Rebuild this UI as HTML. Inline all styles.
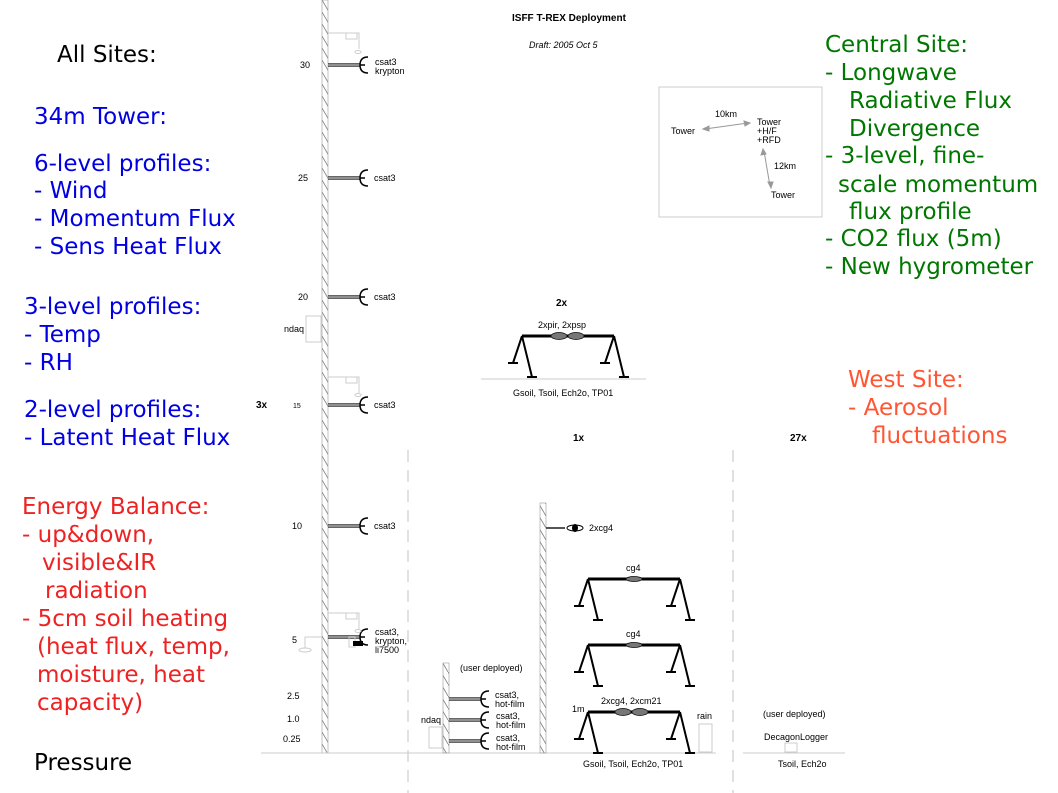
<!DOCTYPE html>
<html><head><meta charset="utf-8"><style>
html,body{margin:0;padding:0;background:#fff;}
svg{display:block}
.b{font-family:"DejaVu Sans","Liberation Sans",sans-serif;font-size:23px}
.s{font-family:"Liberation Sans",Arial,sans-serif;font-size:9px;fill:#000}
.sb{font-family:"Liberation Sans",Arial,sans-serif;font-size:10px;font-weight:bold;fill:#000}
</style></head><body>
<svg width="1058" height="793" viewBox="0 0 1058 793" xmlns="http://www.w3.org/2000/svg">
<defs>
<pattern id="h" width="7" height="12" patternUnits="userSpaceOnUse">
<line x1="0" y1="0" x2="7" y2="12" stroke="#777" stroke-width="0.8"/>
</pattern>
<g id="son"><line x1="0" y1="-1.2" x2="32" y2="-1.2" stroke="#333" stroke-width="1"/><line x1="0" y1="1.2" x2="32" y2="1.2" stroke="#333" stroke-width="1"/><line x1="0" y1="0" x2="32" y2="0" stroke="#888" stroke-width="1"/><path d="M40,-8 Q32,-8 32,0 Q32,8 40,8" fill="none" stroke="#000" stroke-width="1.5"/><line x1="32" y1="0" x2="37" y2="0" stroke="#000" stroke-width="1.5"/></g>
<g id="stand"><line x1="0" y1="0" x2="92" y2="0" stroke="#000" stroke-width="3"/>
<path d="M0,0 L10,41 M0,0 L-9,27 M92,0 L102,41 M92,0 L83,27" stroke="#000" stroke-width="2" fill="none"/>
<path d="M5,41 H15 M-14,27 H-4 M97,41 H107 M78,27 H88" stroke="#000" stroke-width="2"/></g>
</defs>
<g class="b">
<text x="57" y="62" fill="#000">All Sites:</text>
<text x="34" y="124" fill="#0000e0">34m Tower:</text>
<g fill="#0000e0">
<text x="34" y="171">6-level profiles:</text>
<text x="34" y="198">- Wind</text>
<text x="34" y="226">- Momentum Flux</text>
<text x="34" y="254">- Sens Heat Flux</text>
<text x="24" y="314">3-level profiles:</text>
<text x="24" y="342">- Temp</text>
<text x="24" y="370">- RH</text>
<text x="24" y="417">2-level profiles:</text>
<text x="24" y="445">- Latent Heat Flux</text>
</g>
<g fill="#ee2222">
<text x="22" y="514">Energy Balance:</text>
<text x="22" y="542">- up&amp;down,</text>
<text x="42" y="570">visible&amp;IR</text>
<text x="45" y="598">radiation</text>
<text x="22" y="626">- 5cm soil heating</text>
<text x="37" y="654">(heat flux, temp,</text>
<text x="37" y="682">moisture, heat</text>
<text x="37" y="710">capacity)</text>
</g>
<text x="34" y="770" fill="#000">Pressure</text>
<g fill="#007700">
<text x="825" y="52">Central Site:</text>
<text x="825" y="80">- Longwave</text>
<text x="849" y="108">Radiative Flux</text>
<text x="849" y="136">Divergence</text>
<text x="825" y="163">- 3-level, fine-</text>
<text x="838" y="192">scale momentum</text>
<text x="849" y="219">flux profile</text>
<text x="825" y="246">- CO2 flux (5m)</text>
<text x="825" y="274">- New hygrometer</text>
</g>
<g fill="#ff5533">
<text x="848" y="387">West Site:</text>
<text x="848" y="415">- Aerosol</text>
<text x="872" y="443">fluctuations</text>
</g>
</g>
<text class="sb" x="512" y="21">ISFF T-REX Deployment</text>
<text class="s" x="529" y="48" font-style="italic">Draft: 2005 Oct 5</text>
<rect x="322" y="0" width="6" height="753" fill="url(#h)" stroke="#999" stroke-width="0.6"/>
<line x1="261" y1="753" x2="716" y2="753" stroke="#ccc" stroke-width="1"/>
<line x1="743" y1="753" x2="845" y2="753" stroke="#ccc" stroke-width="1"/>
<line x1="481" y1="379" x2="646" y2="379" stroke="#ccc" stroke-width="1"/>
<line x1="408" y1="450" x2="408" y2="793" stroke="#ccc" stroke-width="1.2" stroke-dasharray="12,8"/>
<line x1="733" y1="450" x2="733" y2="793" stroke="#ccc" stroke-width="1.2" stroke-dasharray="12,8"/>
<g class="s">
<text x="300" y="68">30</text><text x="298" y="181">25</text><text x="298" y="300">20</text>
<text x="293" y="408" font-size="7">15</text><text x="292" y="529">10</text><text x="292" y="643">5</text>
<text x="287" y="699">2.5</text><text x="287" y="722">1.0</text><text x="283" y="742">0.25</text>
</g>
<text class="sb" x="256" y="408">3x</text>
<use href="#son" x="328" y="65"/><use href="#son" x="328" y="178"/><use href="#son" x="328" y="297"/>
<use href="#son" x="328" y="405"/><use href="#son" x="328" y="526"/><use href="#son" x="328" y="637"/>
<g class="s">
<text x="375" y="65">csat3</text><text x="375" y="74">krypton</text>
<text x="374" y="181">csat3</text><text x="374" y="300">csat3</text><text x="374" y="408">csat3</text><text x="374" y="529">csat3</text>
<text x="375" y="635">csat3,</text><text x="375" y="644">krypton,</text><text x="375" y="653">li7500</text>
</g>
<g fill="none" stroke="#ccc" stroke-width="1">
<path d="M328,33 H359 V49"/><rect x="346" y="33" width="11" height="6"/><ellipse cx="358" cy="52" rx="3" ry="1.5"/>
<path d="M328,377 H359 V393"/><rect x="346" y="377" width="11" height="6"/><ellipse cx="358" cy="395" rx="3" ry="1.5"/>
<path d="M328,613 H359 V629"/><rect x="346" y="613" width="11" height="6"/><ellipse cx="358" cy="631" rx="3" ry="1.5"/>
<path d="M322,637 H305 V648"/><ellipse cx="305" cy="650" rx="6" ry="2"/>
<rect x="349" y="637" width="6" height="10"/>
<rect x="306" y="316" width="15" height="26"/>
<rect x="429" y="727" width="13" height="21"/>
<rect x="699" y="724" width="13" height="28"/>
<rect x="785" y="743" width="12" height="9"/>
</g>
<rect x="353" y="641" width="10" height="5" fill="#000"/>
<text class="s" x="284" y="332">ndaq</text>
<rect x="443" y="663" width="6" height="90" fill="url(#h)" stroke="#999" stroke-width="0.6"/>
<text class="s" x="460" y="671">(user deployed)</text>
<use href="#son" x="449" y="699"/><use href="#son" x="449" y="720"/><use href="#son" x="449" y="741"/>
<g class="s">
<text x="495" y="698">csat3,</text><text x="495" y="707">hot-film</text>
<text x="496" y="719">csat3,</text><text x="496" y="728">hot-film</text>
<text x="496" y="741">csat3,</text><text x="496" y="750">hot-film</text>
<text x="421" y="723">ndaq</text>
<text x="697" y="719">rain</text>
<text x="573" y="441" font-weight="bold" font-size="10">1x</text>
</g>
<rect x="540" y="503" width="6" height="250" fill="url(#h)" stroke="#999" stroke-width="0.6"/>
<line x1="546" y1="528" x2="565" y2="528" stroke="#555" stroke-width="2"/>
<ellipse cx="575" cy="528" rx="8" ry="3" fill="none" stroke="#000" stroke-width="1"/>
<ellipse cx="575" cy="528" rx="3" ry="4" fill="#000"/>
<text class="s" x="589" y="531">2xcg4</text>
<use href="#stand" x="588" y="579"/>
<use href="#stand" x="588" y="645"/>
<use href="#stand" x="588" y="712"/>
<use href="#stand" x="522" y="336"/>
<g fill="#777" stroke="#000" stroke-width="0.7">
<ellipse cx="634" cy="579" rx="8" ry="2.5"/><ellipse cx="634" cy="645" rx="8" ry="2.5"/>
<ellipse cx="623" cy="712" rx="8" ry="3.5"/><ellipse cx="640" cy="712" rx="8" ry="3.5"/>
<ellipse cx="559" cy="336" rx="8" ry="3.5"/><ellipse cx="576" cy="336" rx="8" ry="3.5"/>
</g>
<g class="s">
<text x="626" y="571">cg4</text><text x="626" y="637">cg4</text>
<text x="601" y="704">2xcg4, 2xcm21</text><text x="572" y="712">1m</text>
<text x="583" y="767">Gsoil, Tsoil, Ech2o, TP01</text>
<text x="538" y="328">2xpir, 2xpsp</text>
<text x="513" y="396">Gsoil, Tsoil, Ech2o, TP01</text>
<text x="556" y="306" font-weight="bold" font-size="10">2x</text>
<text x="790" y="441" font-weight="bold" font-size="10">27x</text>
<text x="763" y="717">(user deployed)</text>
<text x="764" y="740">DecagonLogger</text>
<text x="778" y="767">Tsoil, Ech2o</text>
</g>
<rect x="659" y="87" width="163" height="130" fill="none" stroke="#ccc" stroke-width="1"/>
<g class="s">
<text x="671" y="134">Tower</text><text x="715" y="117">10km</text>
<text x="757" y="125">Tower</text><text x="757" y="134">+H/F</text><text x="757" y="143">+RFD</text>
<text x="774" y="169">12km</text><text x="771" y="198">Tower</text>
</g>
<g stroke="#999" stroke-width="1" fill="#999">
<line x1="705" y1="129" x2="748" y2="123"/>
<path d="M703,129 l6,-3 l0,5z"/><path d="M750,123 l-6,-2 l1,5z"/>
<line x1="764" y1="151" x2="770" y2="186"/>
<path d="M763,149 l-2,6 l5,-1z"/><path d="M771,188 l-3,-6 l5,0z"/>
</g>
</svg>
</body></html>
